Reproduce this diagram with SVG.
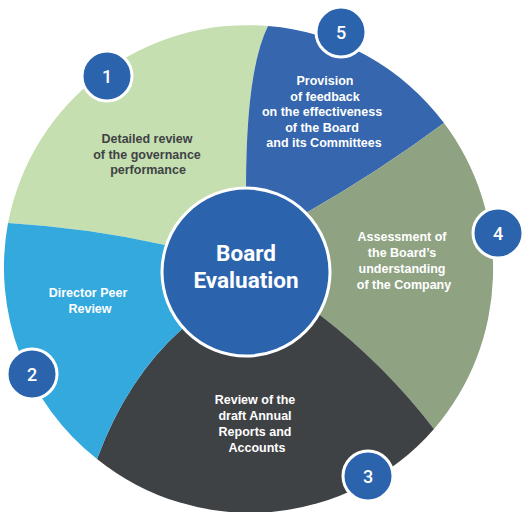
<svg xmlns="http://www.w3.org/2000/svg" width="522" height="512" viewBox="0 0 522 512">
  <style>
    .seg-text { font-family: "Liberation Sans", Arial, sans-serif; font-weight: bold; font-size: 12.5px; text-anchor: middle; }
    .light { fill: #ffffff; }
    .dark { fill: #3F4245; }
    .badge circle { fill: #2B63AD; stroke: #ffffff; stroke-width: 3; }
    .badge text { font-family: Roboto, "Liberation Sans", sans-serif; font-weight: 500; font-size: 18px; fill: #ffffff; text-anchor: middle; }
    .hub-text { font-family: Roboto, "Liberation Sans", sans-serif; font-weight: bold; font-size: 22.5px; fill: #ffffff; text-anchor: middle; }
  </style>
  <rect width="522" height="512" fill="#ffffff"/>

  <g id="segment1">
    <path d="M 8 223 A 244 244 0 0 1 268 26 Q 246 70 246 188 L 246 272 L 165 245 Q 90 228 8 223 Z" fill="#C5DFB0"/>
    <text class="seg-text dark" x="147" y="143">Detailed review</text>
    <text class="seg-text dark" x="147" y="159">of the governance</text>
    <text class="seg-text dark" x="148" y="174">performance</text>
  </g>

  <g id="segment5">
    <path d="M 268 26 A 244 244 0 0 1 444 123 Q 378 172 306 213 L 246 272 L 246 188 Q 246 70 268 26 Z" fill="#3566AE"/>
    <text class="seg-text light" x="325" y="85">Provision</text>
    <text class="seg-text light" x="325" y="100.5">of feedback</text>
    <text class="seg-text light" x="322" y="116">on the effectiveness</text>
    <text class="seg-text light" x="322" y="131.5">of the Board</text>
    <text class="seg-text light" x="324" y="147">and its Committees</text>
  </g>

  <g id="segment4">
    <path d="M 444 123 A 244 244 0 0 1 434 429 Q 385 365 320 315 L 246 272 L 306 213 Q 378 172 444 123 Z" fill="#8FA383"/>
    <text class="seg-text light" x="402" y="241">Assessment of</text>
    <text class="seg-text light" x="402" y="257">the Board’s</text>
    <text class="seg-text light" x="402" y="273">understanding</text>
    <text class="seg-text light" x="404" y="289">of the Company</text>
  </g>

  <g id="segment3">
    <path d="M 434 429 A 244 244 0 0 1 97 459 Q 127 378 182 329 L 246 272 L 320 315 Q 385 365 434 429 Z" fill="#3F4245"/>
    <text class="seg-text light" x="255" y="404">Review of the</text>
    <text class="seg-text light" x="255" y="420">draft Annual</text>
    <text class="seg-text light" x="255" y="436">Reports and</text>
    <text class="seg-text light" x="257" y="452">Accounts</text>
  </g>

  <g id="segment2">
    <path d="M 97 459 A 244 244 0 0 1 8 223 Q 90 228 165 245 L 246 272 L 182 329 Q 127 378 97 459 Z" fill="#33A9DD"/>
    <text class="seg-text light" x="88" y="297">Director Peer</text>
    <text class="seg-text light" x="90" y="313">Review</text>
  </g>

  <g id="hub">
    <circle cx="246" cy="272" r="84" fill="#2B63AD" stroke="#ffffff" stroke-width="3"/>
    <text class="hub-text" x="246" y="261">Board</text>
    <text class="hub-text" x="246" y="288">Evaluation</text>
  </g>

  <g id="connectors"></g>

  <g id="badge1" class="badge">
    <circle cx="107" cy="76" r="25"/>
    <text x="107" y="82.5">1</text>
  </g>
  <g id="badge2" class="badge">
    <circle cx="32" cy="374" r="25"/>
    <text x="32" y="380.5">2</text>
  </g>
  <g id="badge3" class="badge">
    <circle cx="368" cy="476" r="25"/>
    <text x="368" y="482.5">3</text>
  </g>
  <g id="badge4" class="badge">
    <circle cx="498" cy="233" r="25"/>
    <text x="498" y="239.5">4</text>
  </g>
  <g id="badge5" class="badge">
    <circle cx="341" cy="32" r="25"/>
    <text x="341" y="38.5">5</text>
  </g>
</svg>
